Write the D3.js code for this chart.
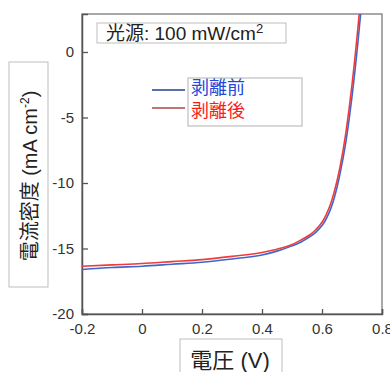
<!DOCTYPE html>
<html>
<head>
<meta charset="utf-8">
<script src="https://cdn.jsdelivr.net/npm/d3@7"></script>
<style>
  body { margin: 0; background: #fff; }
  text { font-family: "Liberation Sans", Arial, "Noto Sans CJK JP", sans-serif; }
</style>
</head>
<body>
<svg id="chart" width="390" height="372"></svg>
<script>
// J-V data
var voltage = [-0.2, -0.1, 0, 0.1, 0.2, 0.3, 0.4, 0.45, 0.5, 0.53, 0.56, 0.58, 0.6, 0.61, 0.62, 0.63, 0.64, 0.66, 0.68, 0.69, 0.70, 0.71, 0.72, 0.73];
var before = [-16.6, -16.45, -16.35, -16.2, -16.05, -15.8, -15.5, -15.2, -14.8, -14.5, -14.1, -13.75, -13.25, -12.9, -12.45, -11.9, -11.2, -9.3, -6.8, -5.2, -3.4, -1.4, 0.8, 3.2];
var after  = [-16.35, -16.25, -16.15, -16.0, -15.85, -15.6, -15.3, -15.05, -14.7, -14.35, -13.95, -13.55, -13.0, -12.6, -12.1, -11.5, -10.75, -8.8, -6.1, -4.4, -2.5, -0.4, 1.9, 4.4];

var xTicks = [-0.2, 0, 0.2, 0.4, 0.6, 0.8];
var yTicks = [-20, -15, -10, -5, 0];

var seriesNames = ["剥離前", "剥離後"];
var lineColors = ["#3f66cc", "#ee3b3b"];
var legendLineColors = ["#5a70a8", "#c07474"];
var textColors = ["#2448d8", "#ff1a1a"];

var svg = d3.select("#chart"),
  margin = { top: 14, left: 82, bottom: 58, right: 8 },
  width = +svg.attr("width"),
  height = +svg.attr("height");

var x = d3.scaleLinear().domain([-0.2, 0.8]).range([margin.left, width - margin.right]);
var y = d3.scaleLinear().domain([-20, 2.9]).range([height - margin.bottom, margin.top]);

// hyphen minus like the original, not the unicode minus
var fmt = d => d === 0 ? "0" : String(d);

var defs = svg.append("defs");
defs.append("clipPath").attr("id", "clip")
  .append("rect")
  .attr("x", x(-0.2)).attr("y", y(2.9))
  .attr("width", x(0.8) - x(-0.2)).attr("height", y(-20) - y(2.9));

// frame
svg.append("rect")
  .attr("x", x(-0.2)).attr("y", y(2.9))
  .attr("width", x(0.8) - x(-0.2)).attr("height", y(-20) - y(2.9))
  .attr("fill", "none").attr("stroke", "#7a7a7a").attr("stroke-width", 1.3);

// axes
var xAxis = svg.append("g")
  .attr("transform", `translate(0,${y(-20)})`)
  .call(d3.axisBottom(x).tickValues(xTicks).tickSize(-5).tickPadding(9).tickFormat(fmt));

var yAxis = svg.append("g")
  .attr("transform", `translate(${x(-0.2)},0)`)
  .call(d3.axisLeft(y).tickValues(yTicks).tickSize(-6).tickPadding(8).tickFormat(fmt));

[xAxis, yAxis].forEach(function (g) {
  g.select(".domain").attr("stroke", "#555").attr("stroke-width", 1.5);
  g.selectAll(".tick line").attr("stroke", "#555").attr("stroke-width", 1.3);
  g.selectAll(".tick text").attr("fill", "#333").style("font-size", "15px");
});

// curves
var line = d3.line()
  .x((d, i) => x(voltage[i]))
  .y(d => y(d))
  .curve(d3.curveMonotoneX);

var plot = svg.append("g").attr("clip-path", "url(#clip)");
[before, after].forEach(function (s, i) {
  plot.append("path")
    .datum(s)
    .attr("fill", "none")
    .attr("stroke", lineColors[i])
    .attr("stroke-width", 1.6)
    .attr("d", line);
});

// light source box
svg.append("rect")
  .attr("x", 97).attr("y", 23).attr("width", 189).attr("height", 20)
  .attr("fill", "#fff").attr("stroke", "#bdbdbd");
var t = svg.append("text").attr("x", 106).attr("y", 40)
  .attr("fill", "#222").style("font-size", "19px");
t.append("tspan").text("光源: 100 mW/cm");
t.append("tspan").attr("dy", -7).style("font-size", "13px").text("2");

// legend
svg.append("rect")
  .attr("x", 188).attr("y", 78).attr("width", 114).attr("height", 48)
  .attr("fill", "#fff").attr("stroke", "#c4c4c4").attr("stroke-width", 1.3);

var legend = svg.selectAll(".legend")
  .data(seriesNames)
  .enter().append("g")
  .attr("class", "legend")
  .attr("transform", (d, i) => `translate(0,${90 + i * 18})`);

legend.append("line")
  .attr("x1", 152).attr("x2", 185)
  .attr("stroke", (d, i) => legendLineColors[i])
  .attr("stroke-width", 2);

legend.append("text")
  .attr("x", 191).attr("y", (d, i) => i === 0 ? -2 : 3)
  .attr("dy", "0.35em")
  .attr("fill", (d, i) => textColors[i])
  .style("font-size", "18px")
  .text(d => d);

// y label
svg.append("rect")
  .attr("x", 9).attr("y", 62).attr("width", 39).attr("height", 225)
  .attr("fill", "#fff").attr("stroke", "#bdbdbd");
var yl = svg.append("text")
  .attr("transform", "translate(30,176) rotate(-90)")
  .attr("text-anchor", "middle").attr("dy", "0.35em")
  .attr("fill", "#222").style("font-size", "20px");
yl.append("tspan").text("電流密度 (mA cm");
yl.append("tspan").attr("dy", -8).style("font-size", "12px").text("-2");
yl.append("tspan").attr("dy", 8).text(")");

// x label
svg.append("rect")
  .attr("x", 180).attr("y", 339).attr("width", 102).attr("height", 40)
  .attr("fill", "#fff").attr("stroke", "#bdbdbd");
svg.append("text")
  .attr("x", 230).attr("y", 360)
  .attr("text-anchor", "middle").attr("dy", "0.35em")
  .attr("fill", "#222").style("font-size", "22px")
  .text("電圧 (V)");
</script>
</body>
</html>
